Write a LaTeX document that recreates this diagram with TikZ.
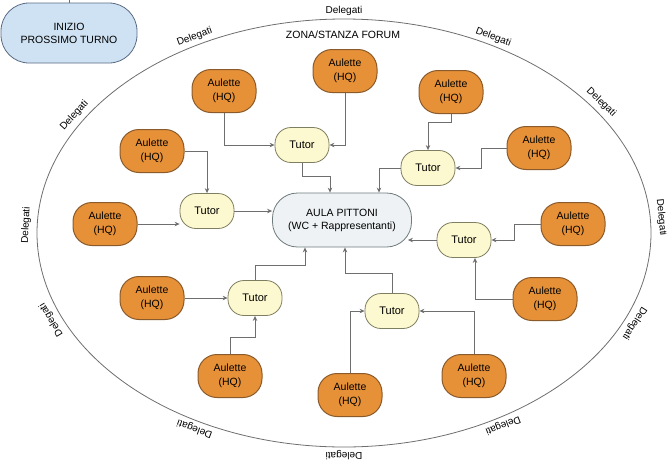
\documentclass[tikz,border=0pt]{standalone}
\usepackage{fontspec}
\setmainfont{Liberation Sans}
\usetikzlibrary{arrows.meta}
\definecolor{arancio}{HTML}{E69138}
\definecolor{bordoarancio}{HTML}{8A5A2A}
\definecolor{giallino}{HTML}{FCF8CF}
\definecolor{bordogiallo}{HTML}{7E7E60}
\definecolor{grigiochiaro}{HTML}{EEF2F4}
\definecolor{bordogrigio}{HTML}{6E7B7B}
\definecolor{azzurro}{HTML}{CFE2F3}
\definecolor{bordoazzurro}{HTML}{5B6B85}
\definecolor{linea}{HTML}{6E6E6E}

\tikzset{
  aulette/.style={draw=bordoarancio, fill=arancio, line width=1pt, rounded corners=19pt,
    minimum width=64pt, minimum height=43pt, align=center, inner sep=1pt,
    font=\fontsize{10.5}{14.5}\selectfont},
  tutor/.style={draw=bordogiallo, fill=giallino, line width=0.8pt, rounded corners=16pt,
    minimum width=54pt, minimum height=35pt, font=\fontsize{11}{13}\selectfont},
  aula/.style={draw=bordogrigio, fill=grigiochiaro, line width=0.8pt, rounded corners=25pt,
    minimum width=139pt, minimum height=54pt, align=center, font=\fontsize{10.5}{13}\selectfont},
  inizio/.style={draw=bordoazzurro, fill=azzurro, line width=0.8pt, rounded corners=28pt,
    minimum width=136pt, minimum height=60pt, align=center, font=\fontsize{10.5}{13}\selectfont},
  delegati/.style={font=\fontsize{10}{12}\selectfont, inner sep=0pt},
  freccia/.style={draw=linea, line width=0.9pt, -{Stealth[length=5pt, width=4.5pt]}}
}

\begin{document}
\begin{tikzpicture}[x=1pt, y=-1pt]
  \useasboundingbox (0,0) rectangle (667,461);

  % zona forum
  \draw [linea, line width=0.8pt] (344,233) ellipse [x radius=307, y radius=214];
  \node [font=\fontsize{10.5}{12}\selectfont] (zona) at (343,35) {ZONA/STANZA FORUM};
  \foreach \a in {4,36,62,90,118,148,178,203,242,270,300,336}
    \node [delegati, rotate={atan2(-214*cos(\a),307*sin(\a))}] (del\a)
      at ({344+318*cos(\a)},{233-222*sin(\a)}) {Delegati};

  \node [inizio] (inizio) at (69,33) {INIZIO\\PROSSIMO TURNO};
  \draw [linea, line width=0.8pt] (inizio.north) -- ++(0,-5);

  \node [aula] (aula) at (342,220) {AULA PITTONI\\(WC + Rappresentanti)};

  % tutor
  \node [tutor] (t1) at (302,145) {Tutor};
  \node [tutor] (t2) at (428,168) {Tutor};
  \node [tutor] (t3) at (207,211) {Tutor};
  \node [tutor] (t4) at (464,240) {Tutor};
  \node [tutor] (t5) at (255,298) {Tutor};
  \node [tutor] (t6) at (392,311) {Tutor};

  % aulette
  \node [aulette] (a1) at (224,91) {Aulette\\(HQ)};
  \node [aulette] (a2) at (345,71) {Aulette\\(HQ)};
  \node [aulette] (a3) at (451,92) {Aulette\\(HQ)};
  \node [aulette] (a4) at (152,151) {Aulette\\(HQ)};
  \node [aulette] (a5) at (539,148) {Aulette\\(HQ)};
  \node [aulette] (a6) at (105,224) {Aulette\\(HQ)};
  \node [aulette] (a7) at (573,224) {Aulette\\(HQ)};
  \node [aulette] (a8) at (152,298) {Aulette\\(HQ)};
  \node [aulette] (a9) at (545,299) {Aulette\\(HQ)};
  \node [aulette] (a10) at (230,376) {Aulette\\(HQ)};
  \node [aulette] (a11) at (350,395) {Aulette\\(HQ)};
  \node [aulette] (a12) at (474,376) {Aulette\\(HQ)};

  % aulette -> tutor
  \draw [freccia] (a1) |- (t1);
  \draw [freccia] (a2) |- (t1);
  \draw [freccia] (a3.south) -- ++(0,8) -| (t2.north);
  \draw [freccia] (a5.west) -- ++(-25,0) |- (t2.east);
  \draw [freccia] (a4.east) -| (t3.north);
  \draw [freccia] (a6.east) -- (a6.east -| t3.west);
  \draw [freccia] (a7.west) -- ++(-26,0) |- (t4.east);
  \draw [freccia] (a9.west) -| ([xshift=11pt]t4.south);
  \draw [freccia] (a8.east) -- (t5.west);
  \draw [freccia] (a10.north) -- ++(0,-17) -| (t5.south);
  \draw [freccia] (a11) |- (t6.west);
  \draw [freccia] (a12) |- (t6.east);

  % tutor -> aula
  \draw [freccia] (t1.south) -- ++(0,14) -| ([xshift=-12pt]aula.north);
  \draw [freccia] (t2.west) -| ([xshift=37pt]aula.north);
  \draw [freccia] (t3.east) -- (t3.east -| aula.west);
  \draw [freccia] (t4.west) -- ([xshift=-4pt]t4.west -| aula.east);
  \draw [freccia] (t5.north) -- ++(0,-15) -| ([xshift=-37pt]aula.south);
  \draw [freccia] (t6.north) -- ++(0,-20) -| ([xshift=3pt]aula.south);
\end{tikzpicture}
\end{document}
